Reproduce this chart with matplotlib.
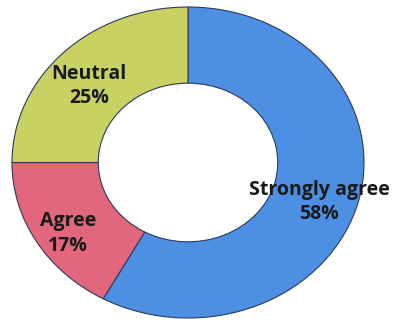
import matplotlib
matplotlib.use("Agg")
import matplotlib.pyplot as plt

categories = ["Strongly agree", "Agree", "Neutral"]
values = [58, 17, 25]
colors = ["#4D8FE3", "#E2667C", "#C9D163"]

fig = plt.figure(figsize=(3.97, 3.25), dpi=100)
ax = fig.add_axes([12/397, 7/325, 352/397, 311/325])
wedges, texts = ax.pie(values, labels=categories, colors=colors, startangle=90,
                       counterclock=False, labeldistance=0.78,
                       wedgeprops=dict(width=0.49, edgecolor="#2a3a5a", linewidth=0.8))
for t, v in zip(texts, values):
    t.set_text(f"{t.get_text()}\n{v}%")
    x, y = t.get_position()
    t.set_position((x - 0.01, y - 0.06))
    t.set_ha("center")
    t.set_va("center")
    t.set_fontsize(14)
    t.set_fontweight("bold")
    t.set_family(["Open Sans", "DejaVu Sans"])
    t.set_color("#1a1a1a")
    t.set_linespacing(1.3)
ax.set_aspect("auto")
ax.set_xlim(-1, 1)
ax.set_ylim(-1, 1)
ax.axis("off")
fig.savefig("out.png", dpi=100)
